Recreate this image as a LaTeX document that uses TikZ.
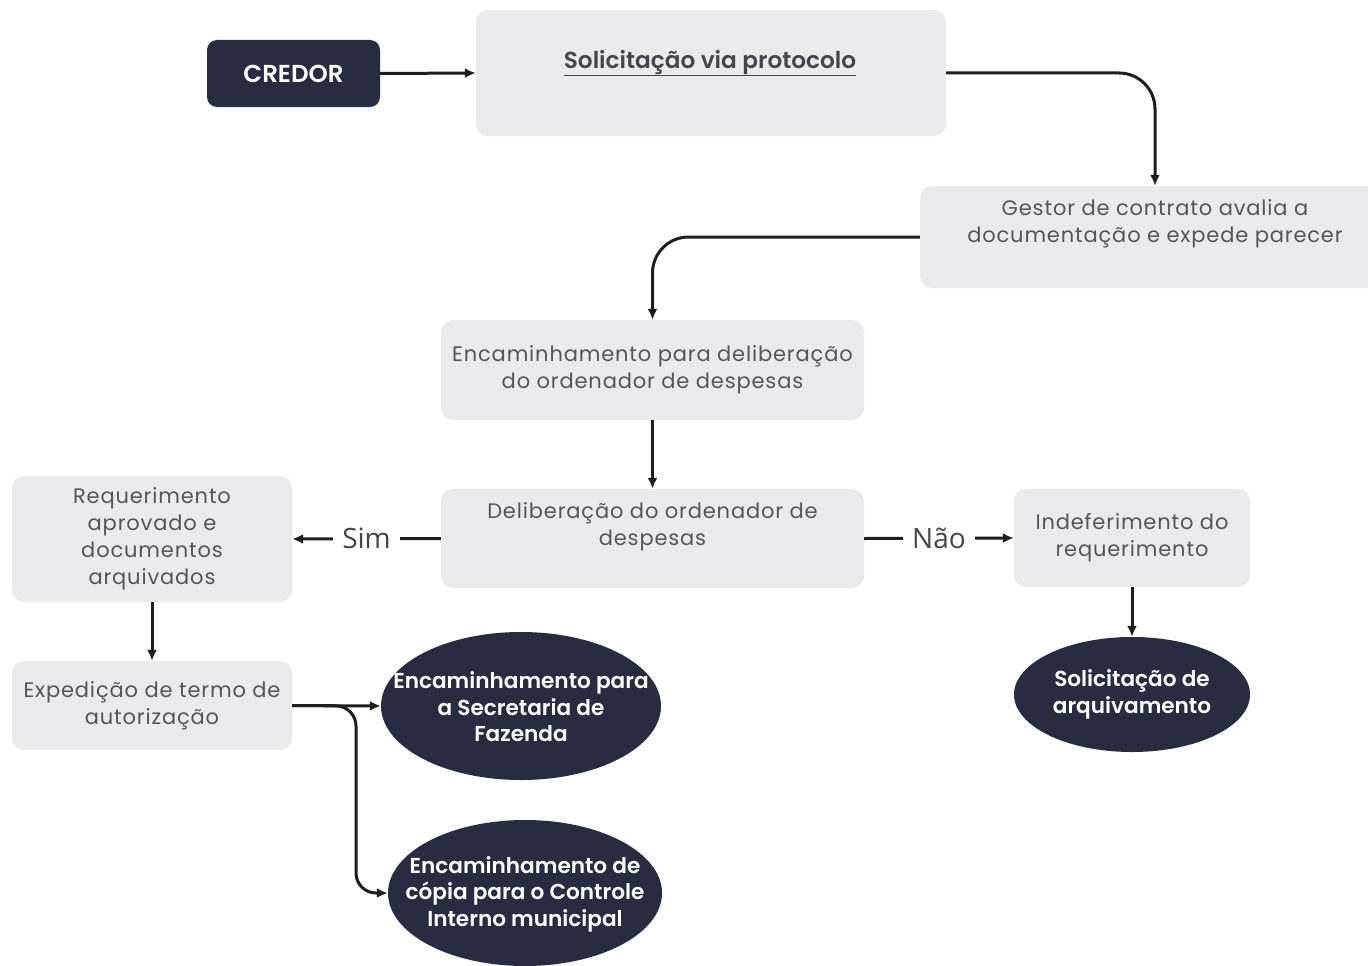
\documentclass[tikz,border=0pt]{standalone}
\usepackage{fontspec}
\setmainfont{Poppins}
\IfFontExistsTF{Poppins Medium}{\newfontfamily\medfont{Poppins Medium}}{\newfontfamily\medfont{Poppins}[FakeBold=1.5]}
\IfFontExistsTF{Poppins SemiBold}{\newfontfamily\semifont{Poppins SemiBold}}{\newfontfamily\semifont{Poppins}[FakeBold=2.5]}
\newfontfamily\regfont{Poppins}[LetterSpace=4]
\newfontfamily\labfont{Open Sans}
\usetikzlibrary{shapes.geometric,arrows.meta,calc}
\definecolor{navy}{HTML}{272C40}
\definecolor{boxgray}{HTML}{EAEAED}
\definecolor{txtgray}{HTML}{55555B}
\definecolor{titlegray}{HTML}{45454F}
\definecolor{linec}{HTML}{1E1E1E}
\begin{document}
\begin{tikzpicture}[x=1pt,y=-1pt,
  gbox/.style={fill=boxgray, rounded corners=12pt, inner sep=0pt, text=txtgray, align=center, font=\regfont\fontsize{21}{27}\selectfont},
  gtext/.style={inner sep=0pt, text=txtgray, align=center, font=\regfont\fontsize{21}{27}\selectfont},
  dbox/.style={fill=navy, rounded corners=10pt, inner sep=0pt, text=white, font=\semifont\fontsize{24.5}{27}\selectfont},
  oval/.style={ellipse, fill=navy, inner sep=0pt},
  ovaltext/.style={inner sep=0pt, text=white, align=center, font=\semifont\fontsize{21.6}{26.5}\selectfont},
  conn/.style={draw=linec, line width=3pt, -{Latex[length=11pt,width=10pt]}},
  answer/.style={fill=white, inner xsep=9pt, inner ysep=2pt, text=titlegray, font=\labfont\fontsize{28}{30}\selectfont},
]
\useasboundingbox (0,0) rectangle (1368,966);
\fill[white] (0,0) rectangle (1368,966);
\clip (0,0) rectangle (1368,966);

% boxes
\node[dbox, minimum width=173pt, minimum height=67pt] (credor) at (293.5,73.5) {CREDOR};
\node[gbox, minimum width=470pt, minimum height=126pt] (proto) at (711,73) {};
\node[gtext, text=titlegray, font=\semifont\fontsize{23.2}{27}\selectfont] (protoT) at (710,63) {\underline{Solicitação via protocolo}};

\node[gbox, minimum width=470pt, minimum height=102pt] (gestor) at (1155,237) {};
\node[gtext] (gestorT) at (1155,224) {Gestor de contrato avalia a\\documentação e expede parecer};

\node[gbox, minimum width=423pt, minimum height=100pt] (enc) at (652.5,370) {Encaminhamento para deliberação\\do ordenador de despesas};

\node[gbox, minimum width=423pt, minimum height=99pt] (delib) at (652.5,538.5) {};
\node[gtext] (delibT) at (652.5,526.5) {Deliberação do ordenador de\\despesas};

\node[gbox, minimum width=280pt, minimum height=126pt] (req) at (152,539) {Requerimento\\aprovado e\\documentos\\arquivados};

\node[gbox, minimum width=236pt, minimum height=98pt] (indef) at (1132,538) {Indeferimento do\\requerimento};

\node[gbox, minimum width=280pt, minimum height=89pt] (exp) at (152,705.5) {Expedição de termo de\\autorização};

% ovals
\node[oval, minimum width=236pt, minimum height=115pt] (arq) at (1132,694.5) {};
\node[ovaltext] (arqT) at (1132,694.5) {Solicitação de\\arquivamento};
\node[oval, minimum width=280pt, minimum height=148pt] (faz) at (521,706) {};
\node[ovaltext] (fazT) at (521,707) {Encaminhamento para\\a Secretaria de\\Fazenda};
\node[oval, minimum width=274pt, minimum height=146pt] (ci) at (525,893) {};
\node[ovaltext] (ciT) at (525,894) {Encaminhamento de\\cópia para o Controle\\Interno municipal};

% connectors
\draw[conn] (credor.east) -- (proto.west);
\draw[conn, rounded corners=36pt] (proto.east) -| (gestor.north);
\draw[conn, rounded corners=36pt] (gestor.west) -| (enc.north);
\draw[conn] (enc.south) -- (delib.north);
\draw[conn] (delib.west) -- node[answer] (sim) {Sim} (req.east);
\draw[conn] (delib.east) -- node[answer] (nao) {Não} (indef.west);
\draw[conn] (req.south) -- (exp.north);
\draw[conn] (indef.south) -- (arq.north);
\draw[conn] (exp.east) -- (faz.west);
\coordinate (branch) at (356,706);
\draw[conn, rounded corners=20pt] (exp.east) -- (branch) |- (ci.west);
\end{tikzpicture}
\end{document}
